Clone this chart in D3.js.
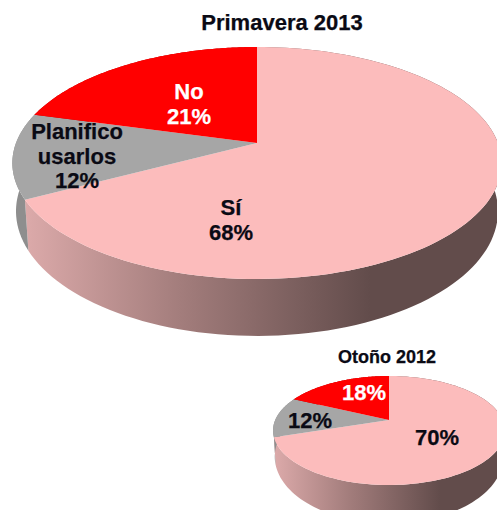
<!DOCTYPE html>
<html><head><meta charset="utf-8">
<script src="https://cdn.jsdelivr.net/npm/d3@7"></script>
<style>html,body{margin:0;padding:0;background:#fff}svg{display:block}
text{font-family:"Liberation Sans",Arial,sans-serif;font-weight:bold;text-anchor:middle;stroke-width:.25px}</style>
</head><body>
<script>
const sliceNames = ["Sí", "Planifico usarlos", "No"];
const spring2013Values = [68, 12, 21];
const autumn2012Values = [70, 12, 18];
const spring2013Labels = [["Sí","68%"],["Planifico","usarlos","12%"],["No","21%"]];
const autumn2012Labels = [["70%"],["12%"],["18%"]];
const topColors = ["#fcbcbc","#a6a6a6","#ff0000"];
const wallColors = ["url(#wall)","#8e8e8e","#b00000"];

const svg = d3.select("body").append("svg").attr("width",497).attr("height",510);
const defs = svg.append("defs");
function wallGradient(id,x1,x2){
  const grad = defs.append("linearGradient").attr("id",id).attr("gradientUnits","userSpaceOnUse")
    .attr("x1",x1).attr("x2",x2).attr("y1",0).attr("y2",0);
  [[0,"#dcaaaa"],[0.45,"#a37d7c"],[1,"#624c4b"]].forEach(s=>grad.append("stop").attr("offset",s[0]).attr("stop-color",s[1]));
}
wallGradient("wall",25,370);
wallGradient("wall2",274,440);

function drawPie(o){
  const g = svg.append("g");
  const slices = d3.pie().sort(null).value(d=>d)(o.values);
  const project = (a,ring)=>{
    const u=Math.sin(a), v=-Math.cos(a), w=1-o.k*v;
    const R=ring?o.R*o.wallX:o.R, S=ring?o.S2:o.S, dy=ring?o.dy:0;
    return [o.cx+R*u/w, o.cy+dy+S*v/w];
  };
  const line=d3.line().curve(d3.curveLinear);
  const angles=s=>d3.range(0,1.0001,1/120).map(t=>s.startAngle+(s.endAngle-s.startAngle)*t);
  slices.forEach((s,i)=>{
    const as=angles(s);
    const top=as.map(a=>project(a,false)), bot=as.map(a=>project(a,true)).reverse();
    g.append("path").attr("d",line(top.concat(bot))+"Z").attr("fill",i===0?o.wall:wallColors[i]);
  });
  slices.forEach((s,i)=>{
    const pts=angles(s).map(a=>project(a,false));
    g.append("path").attr("d",line([[o.cx,o.cy]].concat(pts))+"Z").attr("fill",topColors[i]);
  });
  o.labels.forEach((lines,i)=>{
    const c=i===2?"#fff":"#0a0a14";
    const t=g.append("text").attr("font-size",o.fs).attr("fill",c).attr("stroke",c);
    lines.forEach((l,j)=>t.append("tspan").attr("x",o.pos[i][0]).attr("y",o.pos[i][1]+j*o.lh).text(l));
  });
}
drawPie({values:spring2013Values,labels:spring2013Labels,cx:257,cy:143,k:0.1724,R:241,S:112.55,
  wallX:0.985,S2:121,dy:46.7,fs:22,lh:24.6,wall:"url(#wall)",
  pos:[[231,215],[77,139],[189,99]]});
drawPie({values:autumn2012Values,labels:autumn2012Labels,cx:389,cy:420,k:0.1927,R:113.8,S:52.5,
  wallX:0.985,S2:64,dy:24,fs:22,lh:24,wall:"url(#wall2)",
  pos:[[437,445],[310,428],[364,400]]});
svg.append("text").attr("x",282).attr("y",30).attr("font-size",22).attr("fill","#0a0a14").attr("stroke","#0a0a14").text("Primavera 2013");
svg.append("text").attr("x",387).attr("y",363).attr("font-size",18).attr("fill","#0a0a14").attr("stroke","#0a0a14").text("Otoño 2012");
</script>
</body></html>
